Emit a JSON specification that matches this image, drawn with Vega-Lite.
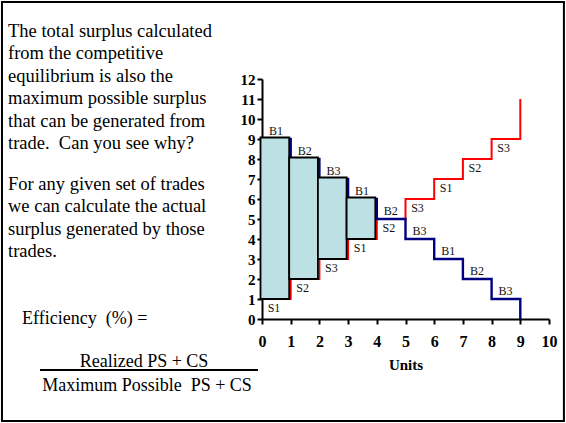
{
  "$schema": "https://vega.github.io/schema/vega-lite/v6.json",
  "width": 287,
  "height": 240,
  "autosize": {"type": "none"},
  "padding": {"left": 262, "top": 79, "right": 17, "bottom": 104},
  "background": "white",
  "config": {
    "view": {"stroke": null},
    "axis": {"grid": false, "domainColor": "black", "domainWidth": 2, "tickColor": "black", "tickWidth": 2,
      "tickSize": 5, "labelFont": "Liberation Serif", "labelFontWeight": "bold", "labelColor": "black",
      "labelFlush": false, "labelOverlap": false, "titleFont": "Liberation Serif", "titleFontWeight": "bold",
      "titleColor": "black"},
    "axisX": {"tickCount": 10, "labelFontSize": 16, "labelPadding": 9, "titleFontSize": 15, "titlePadding": 8},
    "axisY": {"tickCount": 12, "labelFontSize": 15, "labelPadding": 2}
  },
  "datasets": {
    "demand": [
      {"q": 0, "price": 9}, {"q": 1, "price": 8}, {"q": 2, "price": 7}, {"q": 3, "price": 6},
      {"q": 4, "price": 5}, {"q": 5, "price": 4}, {"q": 6, "price": 3}, {"q": 7, "price": 2},
      {"q": 8, "price": 1}, {"q": 9, "price": 0}
    ],
    "supply": [
      {"q": 0, "price": 1}, {"q": 1, "price": 2}, {"q": 2, "price": 3}, {"q": 3, "price": 4},
      {"q": 4, "price": 5}, {"q": 5, "price": 6}, {"q": 6, "price": 7}, {"q": 7, "price": 8},
      {"q": 8, "price": 9}, {"q": 9, "price": 11}
    ],
    "units": [
      {"q0": 0, "q1": 1, "buyer": "B1", "bid": 9, "seller": "S1", "ask": 1, "traded": 1},
      {"q0": 1, "q1": 2, "buyer": "B2", "bid": 8, "seller": "S2", "ask": 2, "traded": 1},
      {"q0": 2, "q1": 3, "buyer": "B3", "bid": 7, "seller": "S3", "ask": 3, "traded": 1},
      {"q0": 3, "q1": 4, "buyer": "B1", "bid": 6, "seller": "S1", "ask": 4, "traded": 1},
      {"q0": 4, "q1": 5, "buyer": "B2", "bid": 5, "seller": "S2", "ask": 5, "traded": 0},
      {"q0": 5, "q1": 6, "buyer": "B3", "bid": 4, "seller": "S3", "ask": 6, "traded": 0},
      {"q0": 6, "q1": 7, "buyer": "B1", "bid": 3, "seller": "S1", "ask": 7, "traded": 0},
      {"q0": 7, "q1": 8, "buyer": "B2", "bid": 2, "seller": "S2", "ask": 8, "traded": 0},
      {"q0": 8, "q1": 9, "buyer": "B3", "bid": 1, "seller": "S3", "ask": 9, "traded": 0}
    ]
  },
  "layer": [
    {
      "data": {"name": "supply"},
      "mark": {"type": "line", "interpolate": "step-after", "color": "#ff0000", "strokeWidth": 2},
      "encoding": {
        "x": {"field": "q", "type": "quantitative", "scale": {"domain": [0, 10], "nice": false}, "title": "Units"},
        "y": {"field": "price", "type": "quantitative", "scale": {"domain": [0, 12], "nice": false}, "title": null}
      }
    },
    {
      "data": {"name": "demand"},
      "mark": {"type": "line", "interpolate": "step-after", "color": "#000080", "strokeWidth": 2.4},
      "encoding": {
        "x": {"field": "q", "type": "quantitative", "scale": {"domain": [0, 10], "nice": false}, "title": "Units"},
        "y": {"field": "price", "type": "quantitative", "scale": {"domain": [0, 12], "nice": false}, "title": null}
      }
    },
    {
      "data": {"name": "units"},
      "transform": [{"filter": "datum.traded == 1"}],
      "mark": {"type": "rect", "fill": "#bce0e3", "stroke": "black", "strokeWidth": 1.8,
        "xOffset": -1.5, "x2Offset": -1.5, "yOffset": -1.5},
      "encoding": {
        "x": {"field": "q0", "type": "quantitative", "scale": {"domain": [0, 10], "nice": false}, "title": "Units"},
        "x2": {"field": "q1"},
        "y": {"field": "bid", "type": "quantitative", "scale": {"domain": [0, 12], "nice": false}, "title": null},
        "y2": {"field": "ask"}
      }
    },
    {
      "data": {"name": "units"},
      "mark": {"type": "text", "font": "Liberation Serif", "fontSize": 12, "color": "#111", "align": "center",
        "baseline": "alphabetic", "dx": 14, "dy": -4},
      "encoding": {
        "x": {"field": "q0", "type": "quantitative", "scale": {"domain": [0, 10], "nice": false}, "title": "Units"},
        "y": {"field": "bid", "type": "quantitative", "scale": {"domain": [0, 12], "nice": false}, "title": null},
        "text": {"field": "buyer"}
      }
    },
    {
      "data": {"name": "units"},
      "mark": {"type": "text", "font": "Liberation Serif", "fontSize": 12, "color": "#111", "align": "center",
        "baseline": "top", "dx": 12, "dy": 4},
      "encoding": {
        "x": {"field": "q0", "type": "quantitative", "scale": {"domain": [0, 10], "nice": false}, "title": "Units"},
        "y": {"field": "ask", "type": "quantitative", "scale": {"domain": [0, 12], "nice": false}, "title": null},
        "text": {"field": "seller"}
      }
    },
    {
      "data": {"values": [{}]},
      "mark": {"type": "rect", "fill": "transparent", "stroke": "black", "strokeWidth": 2},
      "encoding": {
        "x": {"datum": -9.06, "type": "quantitative", "scale": {"domain": [0, 10], "nice": false}, "title": "Units"},
        "x2": {"datum": 10.52},
        "y": {"datum": 15.85, "type": "quantitative", "scale": {"domain": [0, 12], "nice": false}, "title": null},
        "y2": {"datum": -5.1}
      }
    },
    {
      "data": {"values": [{}]},
      "mark": {"type": "text", "font": "Liberation Serif", "fontSize": 18.5, "color": "black", "align": "left",
        "baseline": "top", "lineHeight": 22.4,
        "text": ["The total surplus calculated", "from the competitive", "equilibrium is also the",
          "maximum possible surplus", "that can be generated from", "trade.\u00a0 Can you see why?"]},
      "encoding": {
        "x": {"datum": -8.85, "type": "quantitative", "scale": {"domain": [0, 10], "nice": false}, "title": "Units"},
        "y": {"datum": 14.85, "type": "quantitative", "scale": {"domain": [0, 12], "nice": false}, "title": null}
      }
    },
    {
      "data": {"values": [{}]},
      "mark": {"type": "text", "font": "Liberation Serif", "fontSize": 18.5, "color": "black", "align": "left",
        "baseline": "top", "lineHeight": 22.4,
        "text": ["For any given set of trades", "we can calculate the actual", "surplus generated by those", "trades."]},
      "encoding": {
        "x": {"datum": -8.85, "type": "quantitative", "scale": {"domain": [0, 10], "nice": false}, "title": "Units"},
        "y": {"datum": 7.2, "type": "quantitative", "scale": {"domain": [0, 12], "nice": false}, "title": null}
      }
    },
    {
      "data": {"values": [{}]},
      "mark": {"type": "text", "font": "Liberation Serif", "fontSize": 18, "color": "black", "align": "left",
        "baseline": "top", "text": "Efficiency\u00a0 (%) ="},
      "encoding": {
        "x": {"datum": -8.36, "type": "quantitative", "scale": {"domain": [0, 10], "nice": false}, "title": "Units"},
        "y": {"datum": 0.45, "type": "quantitative", "scale": {"domain": [0, 12], "nice": false}, "title": null}
      }
    },
    {
      "data": {"values": [{}]},
      "mark": {"type": "text", "font": "Liberation Serif", "fontSize": 18, "color": "black", "align": "center",
        "baseline": "top", "text": "Realized PS + CS"},
      "encoding": {
        "x": {"datum": -4.11, "type": "quantitative", "scale": {"domain": [0, 10], "nice": false}, "title": "Units"},
        "y": {"datum": -1.7, "type": "quantitative", "scale": {"domain": [0, 12], "nice": false}, "title": null}
      }
    },
    {
      "data": {"values": [{}]},
      "mark": {"type": "rule", "color": "black", "strokeWidth": 2},
      "encoding": {
        "x": {"datum": -7.735, "type": "quantitative", "scale": {"domain": [0, 10], "nice": false}, "title": "Units"},
        "x2": {"datum": -0.139},
        "y": {"datum": -2.55, "type": "quantitative", "scale": {"domain": [0, 12], "nice": false}, "title": null}
      }
    },
    {
      "data": {"values": [{}]},
      "mark": {"type": "text", "font": "Liberation Serif", "fontSize": 18, "color": "black", "align": "center",
        "baseline": "top", "text": "Maximum Possible\u00a0 PS + CS"},
      "encoding": {
        "x": {"datum": -4.007, "type": "quantitative", "scale": {"domain": [0, 10], "nice": false}, "title": "Units"},
        "y": {"datum": -2.9, "type": "quantitative", "scale": {"domain": [0, 12], "nice": false}, "title": null}
      }
    }
  ]
}
